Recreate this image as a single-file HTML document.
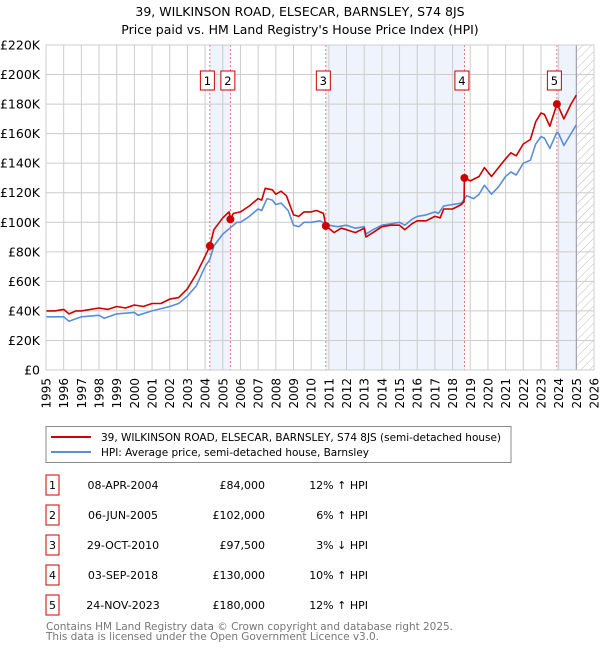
<!DOCTYPE html>
<html><head><meta charset="utf-8"><style>
body{margin:0;background:#fff;font-family:"Liberation Sans","DejaVu Sans",sans-serif;}
svg text{font-family:"DejaVu Sans","Liberation Sans",sans-serif;}
</style></head><body>
<svg id="c" width="600" height="650" xmlns="http://www.w3.org/2000/svg">
<defs><pattern id="hatch" width="6" height="6" patternUnits="userSpaceOnUse" patternTransform="rotate(45)"><line x1="0" y1="0" x2="0" y2="6" stroke="#bbb" stroke-width="1"/></pattern></defs>
<text x="300" y="16" text-anchor="middle" font-size="12.5">39, WILKINSON ROAD, ELSECAR, BARNSLEY, S74 8JS</text>
<text x="300" y="34" text-anchor="middle" font-size="12.5">Price paid vs. HM Land Registry's House Price Index (HPI)</text>
<g id="plot"></g>
<g>
<rect x="46" y="426.5" width="465" height="36" fill="#fff" stroke="#888"/>
<line x1="51" y1="437" x2="91" y2="437" stroke="#cc0000" stroke-width="2"/>
<text x="101" y="441" font-size="10.5" textLength="400">39, WILKINSON ROAD, ELSECAR, BARNSLEY, S74 8JS (semi-detached house)</text>
<line x1="51" y1="452" x2="91" y2="452" stroke="#5b8ed6" stroke-width="2"/>
<text x="101" y="456" font-size="10.5" textLength="268">HPI: Average price, semi-detached house, Barnsley</text>
</g>
<g id="table"></g>
<text x="46" y="630" font-size="10.5" fill="#777" textLength="407">Contains HM Land Registry data © Crown copyright and database right 2025.</text>
<text x="46" y="640" font-size="10.5" fill="#777" textLength="333">This data is licensed under the Open Government Licence v3.0.</text>
</svg>
<script>
const yTicks=[0,20,40,60,80,100,120,140,160,180,200,220];
const years=[1995,1996,1997,1998,1999,2000,2001,2002,2003,2004,2005,2006,2007,2008,2009,2010,2011,2012,2013,2014,2015,2016,2017,2018,2019,2020,2021,2022,2023,2024,2025,2026];
const priceT=[1995,1995.5,1996,1996.3,1996.7,1997,1998,1998.5,1999,1999.5,2000,2000.5,2001,2001.5,2002,2002.5,2003,2003.5,2004,2004.27,2004.5,2005,2005.35,2005.43,2005.6,2006,2006.5,2007,2007.2,2007.4,2007.8,2008,2008.3,2008.6,2009,2009.3,2009.6,2010,2010.3,2010.7,2010.83,2011,2011.3,2011.7,2012,2012.5,2013,2013.1,2013.5,2014,2014.5,2015,2015.3,2015.7,2016,2016.5,2017,2017.3,2017.5,2018,2018.5,2018.65,2018.67,2019,2019.5,2019.8,2020.2,2020.6,2021,2021.3,2021.6,2022,2022.4,2022.7,2023,2023.2,2023.5,2023.9,2024,2024.3,2024.7,2025];
const priceV=[40,40,41,38,40,40,42,41,43,42,44,43,45,45,48,49,55,65,77,84,95,103,107,102,106,107,111,116,115,123,122,119,121,118,105,104,107,107,108,106,97.5,96,93,96,95,93,96,90,93,97,98,98,95,99,101,101,104,103,109,109,112,114,130,128,131,137,131,137,143,147,145,153,156,168,174,173,165,180,178,170,180,186];
const hpiT=[1995,1996,1996.3,1997,1998,1998.3,1999,2000,2000.2,2001,2002,2002.5,2003,2003.5,2004,2004.27,2004.5,2005,2005.5,2005.8,2006,2006.5,2007,2007.2,2007.5,2007.8,2008,2008.3,2008.7,2009,2009.3,2009.6,2010,2010.5,2010.83,2011,2011.5,2012,2012.5,2013,2013.1,2013.5,2014,2014.5,2015,2015.3,2015.7,2016,2016.5,2017,2017.2,2017.5,2018,2018.5,2018.8,2019.2,2019.5,2019.8,2020.2,2020.6,2021,2021.3,2021.6,2022,2022.4,2022.7,2023,2023.2,2023.5,2023.9,2024,2024.3,2024.7,2025];
const hpiV=[36,36,33,36,37,35,38,39,37,40,43,45,50,57,70,75,84,92,97,100,100,104,109,108,116,115,112,113,108,98,97,100,100,101,99,98,97,98,96,97,92,95,98,99,100,98,102,104,105,107,106,111,112,113,118,116,119,125,119,124,131,134,132,140,142,153,158,157,150,161,160,152,160,166];
const saleT=[2004.27,2005.43,2010.83,2018.67,2023.9];
const saleV=[84,102,97.5,130,180];
const saleDates=["08-APR-2004","06-JUN-2005","29-OCT-2010","03-SEP-2018","24-NOV-2023"];
const salePrices=["£84,000","£102,000","£97,500","£130,000","£180,000"];
const saleHpi=["12% ↑ HPI","6% ↑ HPI","3% ↓ HPI","10% ↑ HPI","12% ↑ HPI"];
const shadeBands=[[2004.27,2005.43],[2010.83,2018.67],[2023.9,2025]];

const NS="http://www.w3.org/2000/svg";
const L=46,R=594,T=45,B=370;
const x=t=>L+(t-1995)/(2026-1995)*(R-L);
const y=v=>B-v/220*(B-T);
function mk(tag,attrs,parent){const e=document.createElementNS(NS,tag);for(const k in attrs)e.setAttribute(k,attrs[k]);parent.appendChild(e);return e;}
const g=document.getElementById('plot');
shadeBands.forEach(b=>{const r=mk('rect',{x:x(b[0]),y:T,width:x(b[1])-x(b[0]),height:B-T,fill:'#eef3fc'},g);

});
const h=mk('rect',{x:x(2025),y:T,width:x(2026)-x(2025),height:B-T,fill:'url(#hatch)'},g);


years.forEach(yr=>{mk('line',{x1:x(yr),x2:x(yr),y1:T,y2:B,stroke:'#ccc','stroke-width':1},g);
const t=mk('text',{x:0,y:0,transform:`translate(${x(yr)+4.5},378) rotate(-90)`,'text-anchor':'end','font-size':12},g);t.textContent=yr;

});
yTicks.forEach(v=>{mk('line',{x1:L,x2:R,y1:y(v),y2:y(v),stroke:'#ccc','stroke-width':1},g);
const t=mk('text',{x:L-6,y:y(v)+4.5,'text-anchor':'end','font-size':12.5},g);t.textContent=v===0?'£0':'£'+v+'K';

});
mk('line',{x1:x(2025),x2:x(2025),y1:T,y2:B,stroke:'#99a',"stroke-width":1},g);
saleT.forEach((t,i)=>{const l=mk('line',{x1:x(t),x2:x(t),y1:T,y2:B,stroke:'#ee5555','stroke-dasharray':'2,2','stroke-width':0.8},g);

});
function path(ts,vs,col,name){const d=ts.map((t,i)=>(i?'L':'M')+x(t).toFixed(1)+','+y(vs[i]).toFixed(1)).join('');
const p=mk('path',{d:d,fill:'none',stroke:col,'stroke-width':1.6,'stroke-linejoin':'round'},g);

}
path(hpiT,hpiV,'#5b8ed6','hpi-line');
path(priceT,priceV,'#cc0000','price-paid-line');
saleT.forEach((t,i)=>{const c=mk('circle',{cx:x(t),cy:y(saleV[i]),r:4,fill:'#cc0000'},g);


const bx=x(t)-2.5;
const r=mk('rect',{x:bx-7,y:71,width:14,height:19,fill:'#fff',stroke:'#cc0000'},g);


const tx=mk('text',{x:bx,y:85,'text-anchor':'middle','font-size':11.5},g);tx.textContent=i+1;

});
mk('rect',{x:L,y:T,width:R-L,height:B-T,fill:'none',stroke:'#ccc'},g);
const tb=document.getElementById('table');
const rows=[483,513,543,573,603];
rows.forEach((ry,i)=>{const r=mk('rect',{x:46,y:ry-8,width:13,height:20,fill:'#fff',stroke:'#cc0000'},tb);


const a=mk('text',{x:52.5,y:ry+6,'text-anchor':'middle','font-size':11},tb);a.textContent=i+1;


const b=mk('text',{x:123,y:ry+6,'text-anchor':'middle','font-size':11},tb);b.textContent=saleDates[i];


const c=mk('text',{x:265,y:ry+6,'text-anchor':'end','font-size':11},tb);c.textContent=salePrices[i];


const d=mk('text',{x:368,y:ry+6,'text-anchor':'end','font-size':11},tb);d.textContent=saleHpi[i];

});
</script>
</body></html>
